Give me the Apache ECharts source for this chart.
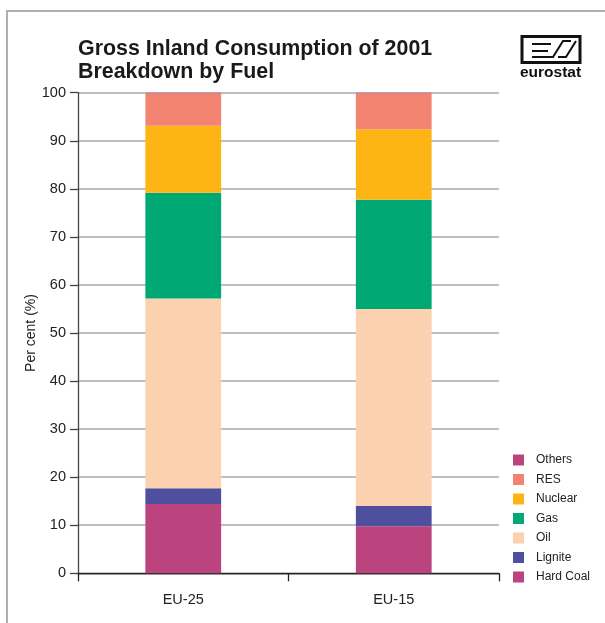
<!DOCTYPE html>
<html><head><meta charset="utf-8">
<script src="https://cdn.jsdelivr.net/npm/echarts@6/dist/echarts.min.js"></script>
<style>html,body{margin:0;padding:0;background:#fff}#c{width:605px;height:623px}</style>
</head><body><div id="c"></div>
<script>
const categories = ['EU-25', 'EU-15'];
const hardCoal = [14.4, 9.8];
const lignite  = [3.3, 4.2];
const oil      = [39.5, 41.0];
const gas      = [22.0, 22.7];
const nuclear  = [13.9, 14.7];
const res      = [6.8, 7.5];
const others   = [0.1, 0.1];
const yTicks = [0, 10, 20, 30, 40, 50, 60, 70, 80, 90, 100];

const seriesDefs = [
  ['Hard Coal', hardCoal, '#BB437E'],
  ['Lignite', lignite, '#4F4FA0'],
  ['Oil', oil, '#FBD1AF'],
  ['Gas', gas, '#00A874'],
  ['Nuclear', nuclear, '#FDB516'],
  ['RES', res, '#F38472'],
  ['Others', others, '#BB437E']
];

const chart = echarts.init(document.getElementById('c'), null, {renderer: 'canvas'});
const font = 'Liberation Sans, Arial, sans-serif';
chart.setOption({
  animation: false,
  backgroundColor: '#fff',
  textStyle: {fontFamily: font},
  title: {
    text: 'Gross Inland Consumption of 2001\nBreakdown by Fuel',
    left: 73, top: 33,
    textStyle: {fontSize: 21.4, fontWeight: 'bold', color: '#1a1a1a', lineHeight: 23, fontFamily: font}
  },
  legend: {
    orient: 'vertical',
    left: 508, top: 449,
    itemWidth: 11, itemHeight: 11, itemGap: 7.5,
    icon: 'rect',
    data: seriesDefs.map(s => s[0]).reverse(),
    textStyle: {fontSize: 12, color: '#222', padding: [0, 0, 0, 7], fontFamily: font}
  },
  grid: {left: 78, right: 106, top: 92.7, bottom: 49.7},
  xAxis: {
    type: 'category',
    data: categories,
    axisLine: {lineStyle: {color: '#222', width: 1.3}},
    axisTick: {show: true, alignWithLabel: false, length: 8, lineStyle: {color: '#222', width: 1.3}},
    axisLabel: {fontSize: 14.5, color: '#222', margin: 19}
  },
  yAxis: {
    type: 'value',
    min: yTicks[0], max: yTicks[yTicks.length - 1], interval: 10,
    name: 'Per cent (%)',
    nameLocation: 'middle',
    nameGap: 40,
    nameMoveOverlap: false,
    nameTextStyle: {fontSize: 14, color: '#222'},
    axisLine: {show: true, lineStyle: {color: '#444', width: 1.3}},
    axisTick: {show: true, length: 8, lineStyle: {color: '#444', width: 1.3}},
    axisLabel: {fontSize: 14.5, color: '#222', margin: 12},
    splitLine: {lineStyle: {color: '#aaa', width: 1.5}}
  },
  series: seriesDefs.map(([name, data, color]) => ({
    name, type: 'bar', stack: 'total', data, barWidth: '36%',
    itemStyle: {color}
  })),
  graphic: [
    {type: 'line', shape: {x1: 6, y1: 11, x2: 605, y2: 11}, style: {stroke: '#b0b0b0', lineWidth: 2}},
    {type: 'line', shape: {x1: 7, y1: 11, x2: 7, y2: 623}, style: {stroke: '#b0b0b0', lineWidth: 2}},
    {type: 'rect', shape: {x: 522, y: 36.5, width: 58, height: 26}, style: {fill: '#fff', stroke: '#111', lineWidth: 3}},
    {type: 'polyline', shape: {points: [[551, 44], [532, 44]]}, style: {stroke: '#111', lineWidth: 2, fill: null}},
    {type: 'polyline', shape: {points: [[548, 51], [532, 51]]}, style: {stroke: '#111', lineWidth: 2, fill: null}},
    {type: 'polyline', shape: {points: [[532, 57], [553, 57], [563, 41], [571, 41]]}, style: {stroke: '#111', lineWidth: 2, fill: null}},
    {type: 'polyline', shape: {points: [[558, 57], [566, 57], [576, 41]]}, style: {stroke: '#111', lineWidth: 2, fill: null}},
    {type: 'text', left: 520, top: 65, style: {text: 'eurostat', font: 'bold 15.5px Liberation Sans, Arial, sans-serif', fill: '#111'}}
  ]
});
</script>
</body></html>
